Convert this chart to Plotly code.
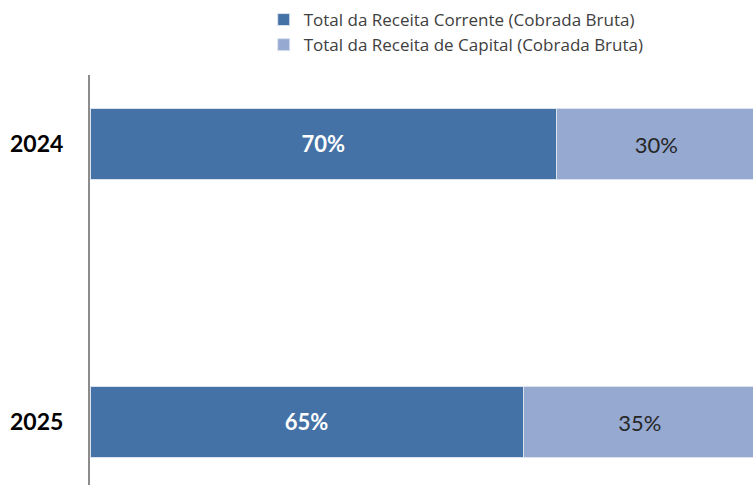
import plotly.graph_objects as go

years = ["2024", "2025"]
corrente = [70, 65]
capital = [30, 35]
corrente_labels = ["70%", "65%"]
capital_labels = ["30%", "35%"]

fig = go.Figure()
fig.add_trace(go.Bar(
    y=years, x=corrente, orientation="h",
    name="Total da Receita Corrente (Cobrada Bruta)",
    marker=dict(color="#4472A7", line=dict(color="#DCE3EF", width=1)),
    text=corrente_labels, textposition="inside", insidetextanchor="middle",
    textfont=dict(color="white", size=22, family="Lato", weight="bold"),
    width=0.255, legendgroup="a",
))
fig.add_trace(go.Bar(
    y=years, x=capital, orientation="h",
    name="Total da Receita de Capital (Cobrada Bruta)",
    marker=dict(color="#95A9D1", line=dict(color="#DCE3EF", width=1)),
    text=capital_labels, textposition="inside", insidetextanchor="middle",
    textfont=dict(color="#262626", size=23, family="Lato"),
    width=0.255, legendgroup="b",
))
fig.update_layout(
    barmode="stack",
    width=753, height=485,
    margin=dict(l=90, r=0, t=75, b=0),
    plot_bgcolor="white", paper_bgcolor="white",
    showlegend=True,
    legend=dict(
        x=0.262, xanchor="left", y=1.178, yanchor="top",
        font=dict(family="Open Sans", size=17, color="#404040"),
        tracegroupgap=0, traceorder="grouped",
        bgcolor="rgba(0,0,0,0)",
    ),
    uniformtext=dict(mode="show", minsize=10),
)
fig.update_xaxes(range=[0, 99.5], visible=False, showgrid=False)
fig.update_yaxes(
    type="category", range=[1.227, -0.248],
    showline=True, linecolor="#8C8C8C", linewidth=2,
    showgrid=False, ticks="", ticklabelstandoff=20,
    tickfont=dict(family="Lato", size=23, color="black", weight="bold"),
)
fig.write_html(
    "out.html",
    config={"displayModeBar": False},
    post_script="document.body.style.margin='0';document.body.style.overflow='hidden';",
)
